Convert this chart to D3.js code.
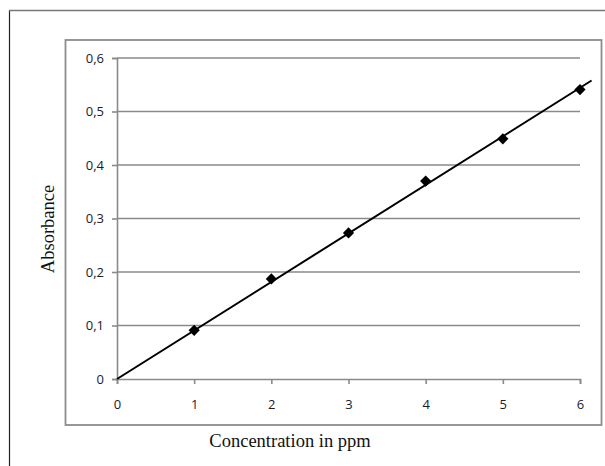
<!doctype html>
<html>
<head>
<script src="https://cdn.jsdelivr.net/npm/d3@7"></script>
<style>
  body { margin: 0; background: #fff; }
</style>
</head>
<body>
<svg id="chart" width="605" height="466"></svg>
<script>
// calibration points
const concentration = [1, 2, 3, 4, 5, 6];
const absorbance = [0.091, 0.187, 0.273, 0.37, 0.449, 0.541];
const xTicks = [0, 1, 2, 3, 4, 5, 6];
const yTicks = [0, 0.1, 0.2, 0.3, 0.4, 0.5, 0.6];
const yTickLabels = ["0", "0,1", "0,2", "0,3", "0,4", "0,5", "0,6"];

const svg = d3.select("#chart");

// outer frame (only left and top visible)
svg.append("line").attr("x1", 9.5).attr("x2", 9.5).attr("y1", 10).attr("y2", 466)
  .attr("stroke", "#222").attr("stroke-width", 1.2);
svg.append("line").attr("x1", 9).attr("x2", 605).attr("y1", 10.5).attr("y2", 10.5)
  .attr("stroke", "#777").attr("stroke-width", 1.5);

// chart box
svg.append("rect").attr("x", 65.5).attr("y", 40).attr("width", 536).attr("height", 385)
  .attr("fill", "none").attr("stroke", "#8c8c8c").attr("stroke-width", 1.8);

const x = d3.scaleLinear().domain([0, 6]).range([117, 580]);
const y = d3.scaleLinear().domain([0, 0.6]).range([379, 58]);

// gridlines
svg.append("g").selectAll("line").data(yTicks.slice(1)).enter().append("line")
  .attr("x1", x(0)).attr("x2", x(6))
  .attr("y1", d => y(d)).attr("y2", d => y(d))
  .attr("stroke", "#8a8a8a").attr("stroke-width", 1.6);

// y axis
const yAxis = svg.append("g").attr("transform", `translate(${x(0)},0)`)
  .call(d3.axisLeft(y).tickValues(yTicks).tickSize(5).tickPadding(8)
    .tickFormat((d, i) => yTickLabels[i]));
yAxis.select(".domain").attr("stroke", "#8a8a8a").attr("stroke-width", 1.6);
yAxis.selectAll(".tick line").attr("stroke", "#8a8a8a").attr("stroke-width", 1.6);
yAxis.selectAll(".tick text").attr("font-family", "'Open Sans', sans-serif")
  .attr("font-size", 13).attr("fill", "#1a1a2e");

// x axis
const xAxis = svg.append("g").attr("transform", `translate(0,${y(0)})`)
  .call(d3.axisBottom(x).tickValues(xTicks).tickSize(5).tickPadding(16).tickFormat(d3.format("d")));
xAxis.select(".domain").attr("stroke", "#8a8a8a").attr("stroke-width", 1.6);
xAxis.selectAll(".tick line").attr("stroke", "#8a8a8a").attr("stroke-width", 1.6);
xAxis.selectAll(".tick text").attr("font-family", "'Open Sans', sans-serif")
  .attr("font-size", 13).attr("fill", "#1a1a2e");

// trend line through the origin (least squares)
const slope = d3.sum(concentration, (c, i) => c * absorbance[i]) / d3.sum(concentration, c => c * c);
svg.append("line")
  .attr("x1", x(0)).attr("y1", y(0))
  .attr("x2", x(6.15)).attr("y2", y(6.15 * slope))
  .attr("stroke", "#000").attr("stroke-width", 2);

// markers
svg.append("g").selectAll("path").data(concentration).enter().append("path")
  .attr("d", d3.symbol().type(d3.symbolDiamond2).size(80))
  .attr("transform", (d, i) => `translate(${x(d)},${y(absorbance[i])})`)
  .attr("fill", "#000");

// axis titles
svg.append("text").attr("transform", "translate(54,229) rotate(-90)")
  .attr("text-anchor", "middle").attr("font-family", "'Liberation Serif', serif")
  .attr("font-size", 18.5).attr("fill", "#111").text("Absorbance");
svg.append("text").attr("x", 290).attr("y", 447)
  .attr("text-anchor", "middle").attr("font-family", "'Liberation Serif', serif")
  .attr("font-size", 18.5).attr("fill", "#111").text("Concentration in ppm");
</script>
</body>
</html>
